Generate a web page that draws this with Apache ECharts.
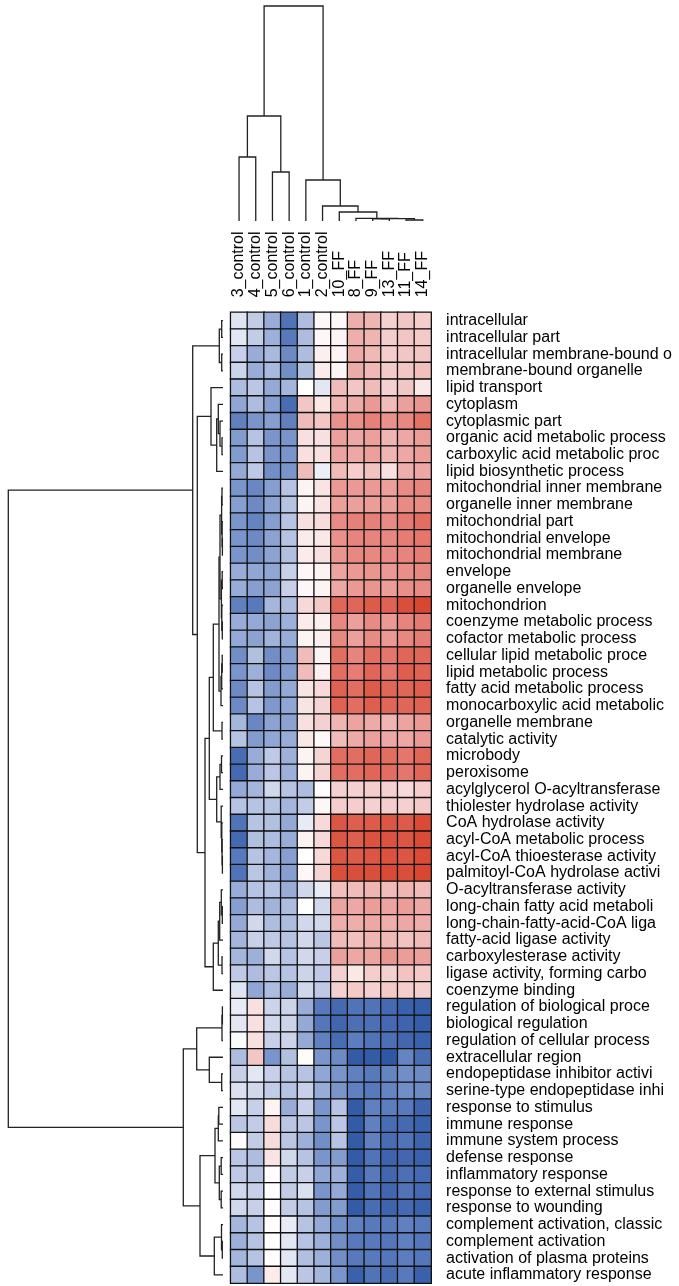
<!DOCTYPE html>
<html>
<head>
<meta charset="utf-8">
<script src="https://cdn.jsdelivr.net/npm/echarts@6/dist/echarts.min.js"></script>
<style>
html, body { margin: 0; padding: 0; background: #fff; }
#chart { width: 679px; height: 1286px; }
</style>
</head>
<body>
<div id="chart"></div>
<script>
// samples, left to right as they come out of the clustering
const colLabels = ['3_control', '4_control', '5_control', '6_control', '1_control', '2_control',
    '10_FF', '8_FF', '9_FF', '13_FF', '11_FF', '14_FF']

const rowLabels = [
    'intracellular', 'intracellular part', 'intracellular membrane-bound o', 'membrane-bound organelle',
    'lipid transport', 'cytoplasm', 'cytoplasmic part', 'organic acid metabolic process',
    'carboxylic acid metabolic proc', 'lipid biosynthetic process', 'mitochondrial inner membrane',
    'organelle inner membrane', 'mitochondrial part', 'mitochondrial envelope', 'mitochondrial membrane',
    'envelope', 'organelle envelope', 'mitochondrion', 'coenzyme metabolic process',
    'cofactor metabolic process', 'cellular lipid metabolic proce', 'lipid metabolic process',
    'fatty acid metabolic process', 'monocarboxylic acid metabolic', 'organelle membrane',
    'catalytic activity', 'microbody', 'peroxisome', 'acylglycerol O-acyltransferase',
    'thiolester hydrolase activity', 'CoA hydrolase activity', 'acyl-CoA metabolic process',
    'acyl-CoA thioesterase activity', 'palmitoyl-CoA hydrolase activi', 'O-acyltransferase activity',
    'long-chain fatty acid metaboli', 'long-chain-fatty-acid-CoA liga', 'fatty-acid ligase activity',
    'carboxylesterase activity', 'ligase activity, forming carbo', 'coenzyme binding',
    'regulation of biological proce', 'biological regulation', 'regulation of cellular process',
    'extracellular region', 'endopeptidase inhibitor activi', 'serine-type endopeptidase inhi',
    'response to stimulus', 'immune response', 'immune system process', 'defense response',
    'inflammatory response', 'response to external stimulus', 'response to wounding',
    'complement activation, classic', 'complement activation', 'activation of plasma proteins',
    'acute inflammatory response'
]

// scaled scores, one row per term, columns in colLabels order
const cellValues = [
    [-0.7, -1.3, -2.3, -4.0, -1.8, 0.2, 0.2, 2.2, 2.0, 1.2, 1.5, 1.3],
    [-0.6, -1.3, -2.2, -3.8, -1.8, 0.2, 0.3, 2.2, 2.0, 1.3, 1.5, 1.4],
    [-1.2, -2.3, -1.9, -3.3, -1.8, 0.4, 0.3, 2.3, 1.9, 1.3, 1.5, 1.5],
    [-1.1, -2.3, -1.9, -3.2, -1.7, 0.5, 0.3, 2.3, 1.9, 1.4, 1.5, 1.7],
    [-1.8, -1.5, -2.4, -2.0, 0.0, -0.6, 1.8, 1.5, 1.8, 1.2, 1.5, 0.6],
    [-2.5, -1.8, -2.7, -4.2, 1.5, 0.6, 2.0, 2.3, 2.8, 1.8, 2.6, 2.9],
    [-3.6, -3.0, -2.7, -3.6, 1.8, 1.5, 3.0, 3.0, 3.5, 3.0, 3.3, 3.9],
    [-2.8, -1.6, -3.0, -3.0, 0.8, 0.8, 2.6, 2.4, 2.6, 2.0, 2.4, 2.7],
    [-2.8, -1.6, -3.0, -3.0, 0.8, 0.8, 2.5, 2.4, 2.6, 2.0, 2.4, 2.7],
    [-2.4, -1.4, -3.2, -3.0, 1.8, -0.4, 1.8, 1.3, 1.6, 0.8, 2.2, 2.4],
    [-3.0, -3.4, -2.7, -1.6, 0.3, 0.7, 2.8, 2.8, 2.8, 2.6, 3.2, 3.4],
    [-2.7, -3.3, -2.6, -1.6, 0.3, 0.7, 2.6, 2.6, 2.7, 2.6, 3.2, 3.2],
    [-3.0, -3.5, -2.7, -1.6, 0.8, 0.9, 3.2, 3.5, 3.5, 3.2, 3.7, 4.0],
    [-3.0, -3.3, -2.6, -1.6, 0.5, 0.6, 3.0, 3.4, 3.4, 3.3, 3.6, 3.8],
    [-3.0, -3.2, -2.6, -1.7, 0.5, 0.8, 2.9, 3.3, 3.3, 3.2, 3.4, 3.6],
    [-2.3, -2.5, -2.5, -1.2, 0.2, 0.3, 2.5, 2.8, 2.9, 2.8, 3.1, 3.3],
    [-2.3, -2.7, -2.6, -1.2, 0.2, 0.3, 2.4, 2.8, 2.9, 2.7, 3.1, 3.2],
    [-3.6, -3.8, -2.0, -1.8, 1.0, 1.4, 4.2, 4.2, 4.5, 4.3, 4.8, 5.0],
    [-2.3, -2.4, -2.6, -2.2, 0.5, 0.4, 3.3, 2.6, 3.2, 2.8, 3.4, 3.7],
    [-2.4, -2.6, -2.1, -2.3, 0.3, 0.4, 3.3, 2.6, 3.2, 2.8, 3.3, 3.6],
    [-3.2, -1.7, -3.2, -2.7, 1.8, 0.3, 4.0, 3.4, 4.0, 3.8, 4.2, 4.2],
    [-3.0, -2.2, -3.3, -2.8, 1.8, 0.4, 4.0, 3.6, 4.2, 3.8, 4.4, 4.3],
    [-3.3, -1.6, -2.8, -2.4, 0.7, 1.0, 4.3, 4.0, 4.5, 4.2, 4.2, 4.4],
    [-3.3, -1.6, -2.9, -2.5, 0.7, 1.1, 4.3, 4.0, 4.4, 4.2, 4.2, 4.3],
    [-2.0, -3.4, -2.6, -2.6, 0.8, 1.2, 2.0, 2.5, 2.3, 2.0, 2.5, 2.8],
    [-1.6, -2.8, -2.5, -2.3, 0.6, 0.2, 1.8, 2.3, 2.6, 2.4, 2.4, 2.8],
    [-4.2, -2.3, -1.4, -2.2, 0.3, 1.1, 4.0, 4.0, 4.2, 4.0, 3.8, 4.2],
    [-4.3, -2.3, -1.5, -2.2, 0.3, 1.1, 4.0, 4.0, 4.2, 4.0, 3.8, 4.2],
    [-2.4, -2.0, -1.0, -1.6, -1.8, 0.05, 1.2, 1.2, 1.3, 1.2, 1.0, 1.3],
    [-1.6, -1.6, -1.6, -2.0, -1.3, 0.2, 1.3, 1.3, 1.2, 1.3, 1.2, 1.4],
    [-4.0, -1.6, -1.7, -2.4, -0.5, 1.0, 4.6, 4.4, 4.5, 4.6, 4.5, 4.9],
    [-4.3, -1.7, -1.8, -2.3, 0.3, 1.0, 4.6, 4.4, 4.7, 4.7, 4.6, 4.9],
    [-3.8, -1.6, -2.0, -2.7, 0.0, 1.0, 4.6, 4.5, 4.6, 4.7, 4.6, 4.9],
    [-4.0, -1.5, -2.1, -2.7, 0.2, 1.1, 4.8, 4.8, 4.8, 4.9, 4.8, 5.0],
    [-2.3, -1.6, -1.6, -2.3, -1.0, -0.5, 1.7, 1.8, 2.0, 1.8, 2.0, 1.8],
    [-2.7, -1.8, -2.1, -1.8, 0.0, -1.0, 2.5, 2.4, 2.7, 2.5, 2.7, 2.4],
    [-2.4, -1.0, -1.8, -1.8, -1.0, -1.0, 2.2, 2.2, 2.4, 2.2, 2.4, 2.2],
    [-2.0, -1.2, -1.4, -1.6, -1.0, -1.5, 1.8, 1.7, 2.0, 1.9, 1.6, 1.8],
    [-2.0, -2.2, -1.0, -1.6, -1.0, -1.2, 2.6, 2.4, 2.5, 2.9, 2.7, 2.6],
    [-1.4, -1.8, -1.5, -1.6, -1.1, -1.4, 1.2, 0.6, 1.3, 1.2, 1.6, 1.4],
    [-0.7, -2.5, -1.8, -2.3, -1.0, -1.4, 1.2, 1.4, 1.2, 1.4, 1.3, 1.2],
    [-0.5, 0.8, -1.1, -1.1, -2.3, -3.8, -4.3, -4.0, -4.0, -4.3, -4.6, -4.7],
    [-0.6, 0.8, -1.0, -1.1, -2.4, -3.9, -4.4, -4.1, -4.1, -4.3, -4.5, -4.7],
    [-0.1, 0.8, -1.2, -1.1, -2.4, -3.6, -4.2, -3.7, -4.0, -4.1, -4.4, -4.6],
    [-1.8, 1.5, -3.0, -1.7, 0.1, -3.0, -3.3, -4.8, -4.8, -4.9, -3.5, -4.2],
    [-1.2, -0.6, -1.2, -1.6, -1.6, -2.5, -3.0, -3.6, -3.8, -3.5, -3.2, -3.3],
    [-0.8, -1.0, -1.3, -1.6, -1.2, -2.3, -3.0, -3.6, -3.8, -3.5, -3.2, -3.3],
    [-0.6, -1.2, 0.3, -2.3, -1.2, -3.0, -1.6, -4.8, -3.6, -3.7, -3.8, -4.5],
    [-1.5, -1.3, 0.9, -1.5, -1.5, -3.0, -1.5, -4.8, -3.6, -4.2, -4.3, -4.6],
    [0.05, -1.3, 0.9, -1.5, -2.2, -3.2, -1.6, -4.8, -3.6, -4.2, -4.0, -4.5],
    [-1.5, -1.8, 0.7, -1.0, -1.6, -3.0, -2.8, -4.8, -4.0, -4.5, -4.4, -4.6],
    [-1.4, -1.6, 0.05, -1.3, -1.2, -2.5, -2.2, -4.7, -3.8, -4.4, -4.1, -4.3],
    [-1.0, -1.2, 0.05, -1.3, -0.8, -3.0, -2.4, -4.7, -4.0, -4.4, -4.0, -4.3],
    [-1.0, -1.2, 0.05, -1.3, -1.6, -2.8, -2.8, -4.8, -4.2, -4.5, -4.3, -4.6],
    [-2.0, -1.6, 0.05, -0.5, -1.6, -2.4, -3.2, -3.6, -3.8, -3.8, -3.6, -3.8],
    [-2.2, -1.6, 0.05, -0.6, -1.6, -2.2, -3.2, -3.8, -3.8, -3.9, -3.6, -3.9],
    [-2.0, -1.6, 0.05, -0.6, -1.7, -2.2, -3.2, -3.8, -3.8, -3.9, -3.7, -3.9],
    [-1.8, -3.0, 0.5, -0.6, -1.5, -2.0, -3.0, -4.6, -4.0, -4.2, -3.8, -4.6]
]

// hclust style merges: negative = leaf (1-based), positive = earlier merge
const colMerge = [[-1, -2], [-3, -4], [1, 2], [-11, -12], [-9, -10], [5, 4], [-8, 6], [-7, 7], [-6, 8], [-5, 9], [3, 10]]
const colHeight = [64, 49, 105, 1.0, 2.2, 2.4, 2.7, 9, 15, 41, 215]

const rowMerge = [
    [-1, -2], [-3, -4], [1, 2], [-8, -9], [-7, 4], [-6, 5], [6, -10], [-5, 7],
    [-11, -12], [-14, -15], [-13, 10], [9, 11], [-16, -17], [-19, -20], [-18, 14], [13, 15],
    [12, 16], [-21, -22], [18, -23], [19, -24], [17, 20], [-25, -26], [21, 22],
    [-27, -28], [24, -29], [-33, -34], [-32, 26], [-31, 27], [-30, 28], [25, 29], [23, 30],
    [-36, -37], [-35, 32], [33, -38], [-39, -40], [34, 35], [36, -41], [31, 37], [8, 38], [3, 39],
    [-42, -43], [41, -44], [-46, -47], [-45, 43], [42, 44],
    [-48, -49], [46, -50], [-51, -52], [-53, -54], [48, 49], [47, 50],
    [-56, -57], [-55, 52], [53, -58], [51, 54], [45, 55], [40, 56]
]
const rowHeight = [
    1.3, 1.3, 3.7, 1, 3, 4.7, 6.3, 12,
    1.0, 0.6, 0.9, 1.4, 0.8, 0.7, 1.2, 1.6,
    3.0, 0.8, 1.3, 2.0, 4.0, 1.0, 9.7,
    1.5, 3.0, 0.6, 0.9, 1.2, 1.8, 6.3, 13.7,
    0.7, 1.7, 3.3, 1.0, 4.7, 9.7, 18, 25.7, 30.3,
    0.6, 1.0, 1.3, 13.7, 26.3,
    4.2, 4.7, 1.8, 1.8, 3.7, 8,
    0.7, 1.5, 8.7, 23, 39.7, 214.7
]

const cellW = 16.7
const cellH = 16.74
const hmLeft = 230.7
const hmTop = 312.3
const font = "'Liberation Sans', Arial, sans-serif"

// turn merges into [posA, hA, posB, hB, h] pieces
function dendro(merge, height) {
    const pos = []
    const out = []
    const node = k => k < 0 ? [-k - 1, 0] : [pos[k - 1], height[k - 1]]
    merge.forEach((m, i) => {
        const a = node(m[0])
        const b = node(m[1])
        pos.push((a[0] + b[0]) / 2)
        out.push([a[0], a[1], b[0], b[1], height[i]])
    })
    return out
}

const lineStyle = { stroke: '#222', lineWidth: 1.3, fill: 'none' }

function colItem(params, api) {
    const pa = api.value(0), ha = api.value(1), pb = api.value(2), hb = api.value(3), h = api.value(4)
    return {
        type: 'polyline',
        shape: { points: [api.coord([pa, ha]), api.coord([pa, h]), api.coord([pb, h]), api.coord([pb, hb])] },
        style: lineStyle
    }
}
function rowItem(params, api) {
    const pa = api.value(0), ha = api.value(1), pb = api.value(2), hb = api.value(3), h = api.value(4)
    return {
        type: 'polyline',
        shape: { points: [api.coord([ha, pa]), api.coord([h, pa]), api.coord([h, pb]), api.coord([hb, pb])] },
        style: lineStyle
    }
}

const heatData = []
cellValues.forEach((row, r) => row.forEach((v, c) => heatData.push([c, r, v])))

const hidden = { show: false }
const chart = echarts.init(document.getElementById('chart'), null, { renderer: 'canvas' })
chart.setOption({
    backgroundColor: '#fff',
    animation: false,
    grid: [
        { left: hmLeft, top: hmTop, width: cellW * 12, height: cellH * 58, outerBoundsMode: 'none' },
        { left: hmLeft, top: 6, width: cellW * 12, height: 215, outerBoundsMode: 'none' },
        { left: 8.3, top: hmTop, width: 214.7, height: cellH * 58, outerBoundsMode: 'none' }
    ],
    xAxis: [
        {
            type: 'category', gridIndex: 0, data: colLabels, position: 'top',
            axisLine: hidden, axisTick: hidden, splitLine: hidden,
            axisLabel: { interval: 0, rotate: -90, margin: 15, fontSize: 16, color: '#000', fontFamily: font }
        },
        { type: 'value', gridIndex: 1, min: -0.5, max: 11.5, show: false },
        { type: 'value', gridIndex: 2, min: 0, max: 214.7, inverse: true, show: false }
    ],
    yAxis: [
        {
            type: 'category', gridIndex: 0, data: rowLabels, inverse: true, position: 'right',
            axisLine: hidden, axisTick: hidden, splitLine: hidden,
            axisLabel: { interval: 0, margin: 15, fontSize: 16, color: '#000', fontFamily: font }
        },
        { type: 'value', gridIndex: 1, min: 0, max: 215, show: false },
        { type: 'value', gridIndex: 2, min: -0.5, max: 57.5, inverse: true, show: false }
    ],
    visualMap: {
        show: false, min: -5, max: 5, seriesIndex: 0,
        inRange: {
            color: ['#2b55a2', '#5a7bbd', '#90a6d4', '#c5cee7', '#ffffff', '#f4cfce', '#eca4a0', '#e4786f', '#d8472f']
        }
    },
    series: [
        {
            type: 'heatmap', xAxisIndex: 0, yAxisIndex: 0, data: heatData,
            itemStyle: { borderColor: '#111', borderWidth: 1.3 },
            emphasis: { disabled: true }
        },
        {
            type: 'custom', xAxisIndex: 1, yAxisIndex: 1, renderItem: colItem,
            data: dendro(colMerge, colHeight), silent: true
        },
        {
            type: 'custom', xAxisIndex: 2, yAxisIndex: 2, renderItem: rowItem,
            data: dendro(rowMerge, rowHeight), silent: true
        }
    ]
})
</script>
</body>
</html>
